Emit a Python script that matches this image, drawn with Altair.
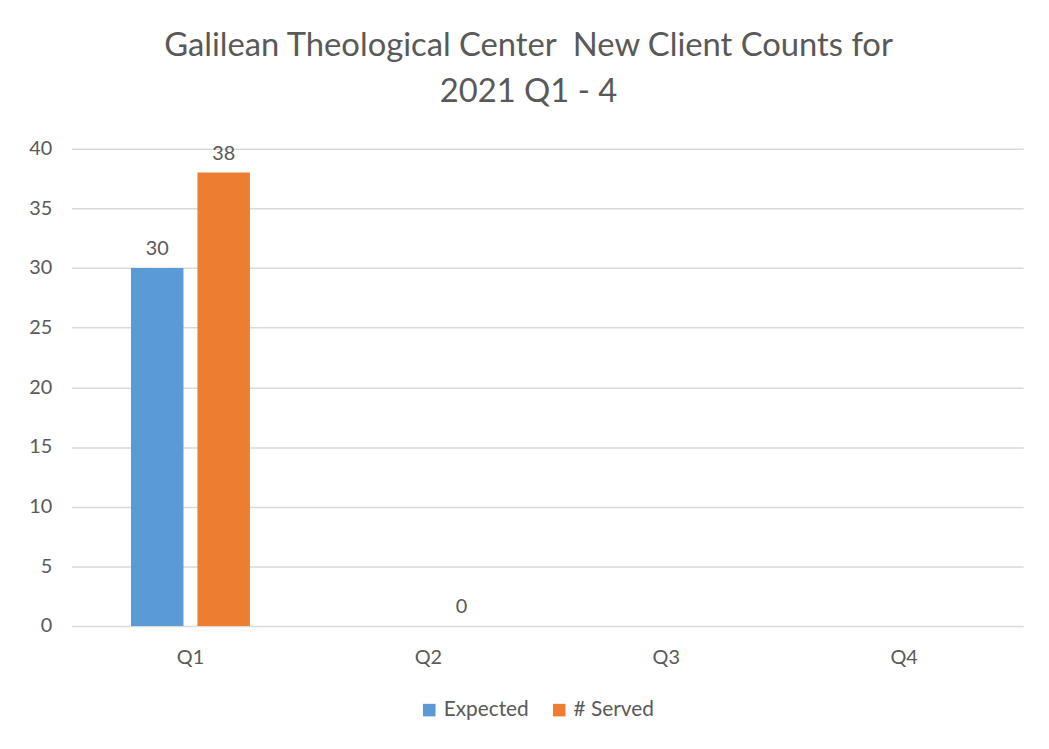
import altair as alt
import pandas as pd

quarters = ["Q1", "Q2", "Q3", "Q4"]
series = ["Expected", "# Served"]
expected = [30, None, None, None]
served = [38, 0, None, None]

rows = []
for i, q in enumerate(quarters):
    rows.append({"Quarter": q, "Series": "Expected", "Value": expected[i]})
    rows.append({"Quarter": q, "Series": "# Served", "Value": served[i]})
df = pd.DataFrame(rows)

FONT = "Lato"
GREY = "#595959"

x = alt.X("Quarter:N", sort=quarters,
          scale=alt.Scale(domain=quarters, paddingInner=0.5, paddingOuter=0.25),
          axis=alt.Axis(title=None, labelAngle=0, domain=False, ticks=False,
                        labelPadding=22, labelFontSize=20, labelColor=GREY, labelFont=FONT))
xo = alt.XOffset("Series:N", sort=series,
                 scale=alt.Scale(domain=series, paddingInner=0.21, paddingOuter=0))
y = alt.Y("Value:Q", scale=alt.Scale(domain=[0, 40]),
          axis=alt.Axis(title=None, values=list(range(0, 45, 5)), domain=False, ticks=False,
                        labelPadding=20, labelFontSize=20, labelColor=GREY, labelFont=FONT,
                        gridColor="#d9d9d9", gridWidth=1.5))

color = alt.Color("Series:N", sort=series,
                  scale=alt.Scale(domain=series, range=["#5b9bd5", "#ed7d31"]),
                  legend=alt.Legend(title=None, orient="none", direction="horizontal",
                                    legendX=350, legendY=555, symbolType="square",
                                    symbolSize=160, symbolStrokeWidth=0,
                                    labelFontSize=21, labelColor=GREY, labelFont=FONT,
                                    columnPadding=20, labelOffset=4))

base = alt.Chart(df).transform_filter("datum.Value != null")

bars = base.mark_bar().encode(x=x, xOffset=xo, y=y, color=color)
labels = base.mark_text(dy=-19, fontSize=20, color=GREY, font=FONT).encode(
    x=x, xOffset=xo, y=y, text=alt.Text("Value:Q", format="d"))

chart = (bars + labels).properties(
    width=959, height=481,
    autosize=alt.AutoSizeParams(type="none"),
    padding={"left": 64, "top": 139, "right": 18, "bottom": 100},
    background="white",
    title=alt.Title(["Galilean Theological Center\u00a0 New Client Counts for", "2021 Q1 - 4"],
                    fontSize=33, font=FONT, fontWeight="normal", color=GREY,
                    anchor="middle", dx=-19, offset=30, lineHeight=46),
).configure_view(strokeWidth=0, stroke=None)

chart.save("out.html", embed_options={"renderer": "svg", "actions": False})
